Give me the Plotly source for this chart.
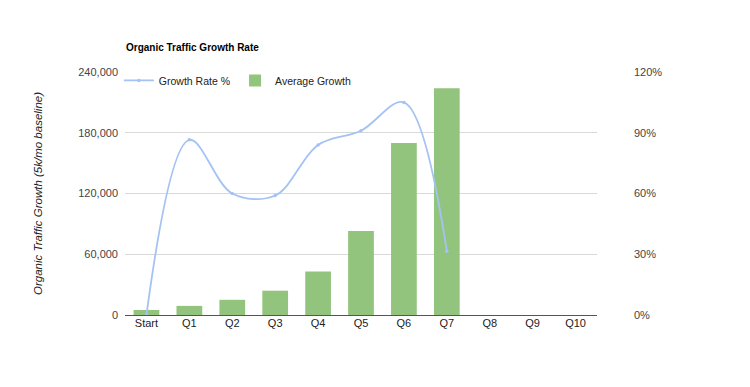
import plotly.graph_objects as go

categories = ["Start", "Q1", "Q2", "Q3", "Q4", "Q5", "Q6", "Q7", "Q8", "Q9", "Q10"]
average_growth = [5000, 9000, 15000, 24000, 43000, 83000, 170000, 224000, None, None, None]
growth_rate_pct = [0, 86.5, 60, 59, 84, 91, 105, 31.5, None, None, None]

left_ticks = [0, 60000, 120000, 180000, 240000]
left_tick_text = ["0", "60,000", "120,000", "180,000", "240,000"]
right_ticks = [0, 30, 60, 90, 120]
right_tick_text = ["0%", "30%", "60%", "90%", "120%"]

FONT = "Liberation Sans, Arial, sans-serif"

fig = go.Figure()
fig.add_trace(go.Bar(
    x=categories, y=average_growth, name="Average Growth",
    marker=dict(color="#93c47d", line=dict(width=0)),
    yaxis="y", legendrank=2,
))
fig.add_trace(go.Scatter(
    x=categories, y=growth_rate_pct, name="Growth Rate %",
    mode="lines+markers", line=dict(color="#a4c2f4", width=1.8, shape="spline", smoothing=1.0),
    marker=dict(size=3.5, color="#a4c2f4"),
    yaxis="y2", legendrank=1,
))

# page body has an 8px default margin, so margins are offset by 8px
fig.update_layout(
    width=750, height=387,
    margin=dict(l=117, r=161, t=64, b=80),
    paper_bgcolor="white", plot_bgcolor="white",
    font=dict(family=FONT, size=11, color="#444444"),
    title=dict(text="<b>Organic Traffic Growth Rate</b>", x=118/750, xanchor="left",
               y=1-39/387, yanchor="middle", font=dict(size=10, color="#000000", family=FONT)),
    bargap=0.4,
    showlegend=True,
    legend=dict(orientation="h", x=-0.013, y=1.025, xanchor="left", yanchor="top",
                bgcolor="rgba(0,0,0,0)", font=dict(size=10.5, color="#222222"),
                itemwidth=30, tracegroupgap=0),
    xaxis=dict(type="category", categoryarray=categories, range=[-0.5, 10.5],
               showgrid=False, showline=False, ticks="", automargin=False,
               tickfont=dict(size=11, color="#222222")),
    yaxis=dict(range=[0, 240000], tickvals=left_ticks, ticktext=left_tick_text,
               showgrid=True, gridcolor="#d9d9d9", gridwidth=1,
               zeroline=True, zerolinecolor="#555555", zerolinewidth=1,
               ticks="", ticklabelstandoff=6, automargin=False,
               tickfont=dict(size=11, color="#444444"),
               title=dict(text="<i>Organic Traffic Growth (5k/mo baseline)</i>",
                          font=dict(size=11.5, color="#222222"), standoff=33)),
    yaxis2=dict(range=[0, 120], tickvals=right_ticks, ticktext=right_tick_text,
                overlaying="y", side="right", showgrid=False, zeroline=False,
                ticks="", ticklabelstandoff=36, automargin=False,
                tickfont=dict(size=11, color="#444444")),
)

fig.write_html("out.html")
